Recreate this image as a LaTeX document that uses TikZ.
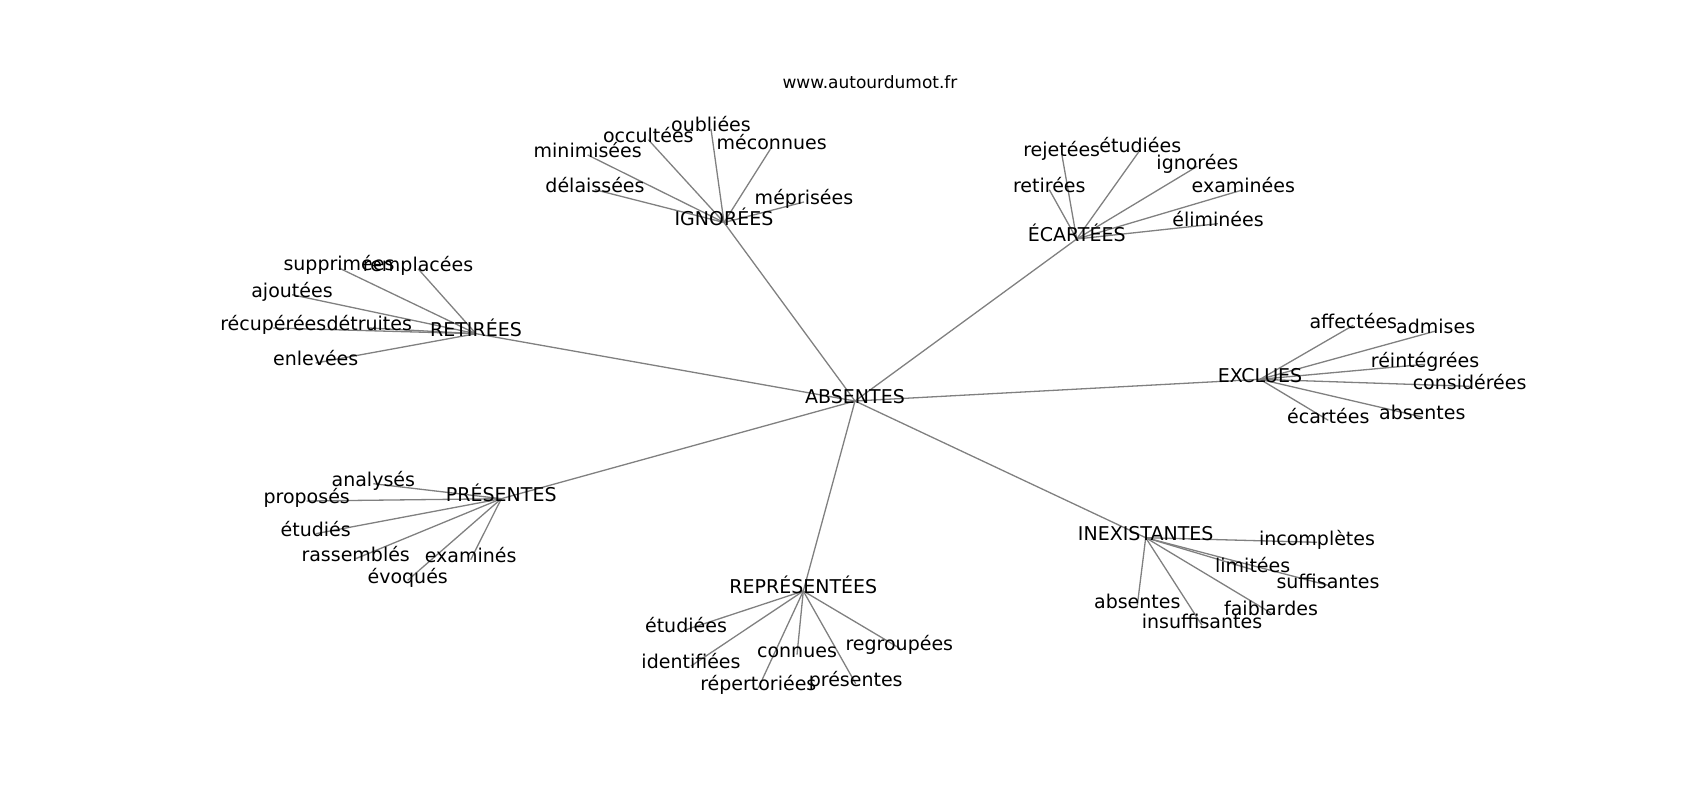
\documentclass[tikz,border=0pt]{standalone}
\usepackage{fontspec}
\setmainfont{DejaVu Sans}
\usetikzlibrary{backgrounds}
\tikzset{
  x=1pt, y=-1pt,
  word/.style={inner sep=0pt, text height=0.76em, text depth=0.21em, yshift=-3pt, font=\fontsize{19}{22}\selectfont},
  titletext/.style={inner sep=0pt, font=\fontsize{17}{20}\selectfont},
  link/.style={draw=gray, line width=1.3pt}
}
\begin{document}
\begin{tikzpicture}
\useasboundingbox (0,0) rectangle (1700,800);
\node[titletext, anchor=base] (title) at (870,88.5) {www.autourdumot.fr};
% centre
\node[word] (abs) at (855,398) {ABSENTES};
% hubs
\node[word] (ign) at (724,219.5) {IGNORÉES};
\node[word] (eca) at (1076.7,236) {ÉCARTÉES};
\node[word] (ret) at (476,330.7) {RETIRÉES};
\node[word] (exc) at (1260,376.3) {EXCLUES};
\node[word] (pre) at (501.3,495.7) {PRÉSENTES};
\node[word] (rep) at (803.3,588) {REPRÉSENTÉES};
\node[word] (ine) at (1145.7,534.7) {INEXISTANTES};
% IGNORÉES leaves
\node[word] (i1) at (595,186.7) {délaissées};
\node[word] (i2) at (587.7,152) {minimisées};
\node[word] (i3) at (648.3,136.7) {occultées};
\node[word] (i4) at (711,126) {oubliées};
\node[word] (i5) at (771.7,144) {méconnues};
\node[word] (i6) at (804,199) {méprisées};
% ÉCARTÉES leaves
\node[word] (e1) at (1061.7,150.7) {rejetées};
\node[word] (e2) at (1140.3,146.7) {étudiées};
\node[word] (e3) at (1197.3,163.3) {ignorées};
\node[word] (e4) at (1243.3,186.7) {examinées};
\node[word] (e5) at (1218,220.7) {éliminées};
\node[word] (e6) at (1049.3,186.7) {retirées};
% RETIRÉES leaves
\node[word] (r1) at (339,265) {supprimées};
\node[word] (r2) at (418,265.7) {remplacées};
\node[word] (r3) at (292,291.7) {ajoutées};
\node[word] (r4) at (273.3,325) {récupérées};
\node[word] (r5) at (369.3,325) {détruites};
\node[word] (r6) at (315.7,360) {enlevées};
% EXCLUES leaves
\node[word] (x1) at (1353.3,322.3) {affectées};
\node[word] (x2) at (1435.7,328) {admises};
\node[word] (x3) at (1425,361.3) {réintégrées};
\node[word] (x4) at (1469.6,383.3) {considérées};
\node[word] (x5) at (1422.3,414) {absentes};
\node[word] (x6) at (1328.3,417.3) {écartées};
% PRÉSENTES leaves
\node[word] (p1) at (373.3,480.7) {analysés};
\node[word] (p2) at (306.7,498) {proposés};
\node[word] (p3) at (315.7,530.7) {étudiés};
\node[word] (p4) at (355.7,555.7) {rassemblés};
\node[word] (p5) at (470.7,556.7) {examinés};
\node[word] (p6) at (407.7,577.3) {évoqués};
% REPRÉSENTÉES leaves
\node[word] (q1) at (686,626.7) {étudiées};
\node[word] (q2) at (691,663) {identifiées};
\node[word] (q3) at (797,651.7) {connues};
\node[word] (q4) at (899.3,645) {regroupées};
\node[word] (q5) at (758.3,685) {répertoriées};
\node[word] (q6) at (855.7,680.7) {présentes};
% INEXISTANTES leaves
\node[word] (n1) at (1317,539.3) {incomplètes};
\node[word] (n2) at (1252.7,566.7) {limitées};
\node[word] (n3) at (1328,582.3) {suffisantes};
\node[word] (n4) at (1137.3,602.3) {absentes};
\node[word] (n5) at (1271,610) {faiblardes};
\node[word] (n6) at (1202,622.3) {insuffisantes};
\begin{pgfonlayer}{background}
\foreach \h in {ign,eca,ret,exc,pre,rep,ine}
  \draw[link] (abs.center) -- (\h.center);
\foreach \l in {i1,i2,i3,i4,i5,i6}
  \draw[link] (ign.center) -- (\l.center);
\foreach \l in {e1,e2,e3,e4,e5,e6}
  \draw[link] (eca.center) -- (\l.center);
\foreach \l in {r1,r2,r3,r4,r5,r6}
  \draw[link] (ret.center) -- (\l.center);
\foreach \l in {x1,x2,x3,x4,x5,x6}
  \draw[link] (exc.center) -- (\l.center);
\foreach \l in {p1,p2,p3,p4,p5,p6}
  \draw[link] (pre.center) -- (\l.center);
\foreach \l in {q1,q2,q3,q4,q5,q6}
  \draw[link] (rep.center) -- (\l.center);
\foreach \l in {n1,n2,n3,n4,n5,n6}
  \draw[link] (ine.center) -- (\l.center);
\end{pgfonlayer}
\end{tikzpicture}
\end{document}
